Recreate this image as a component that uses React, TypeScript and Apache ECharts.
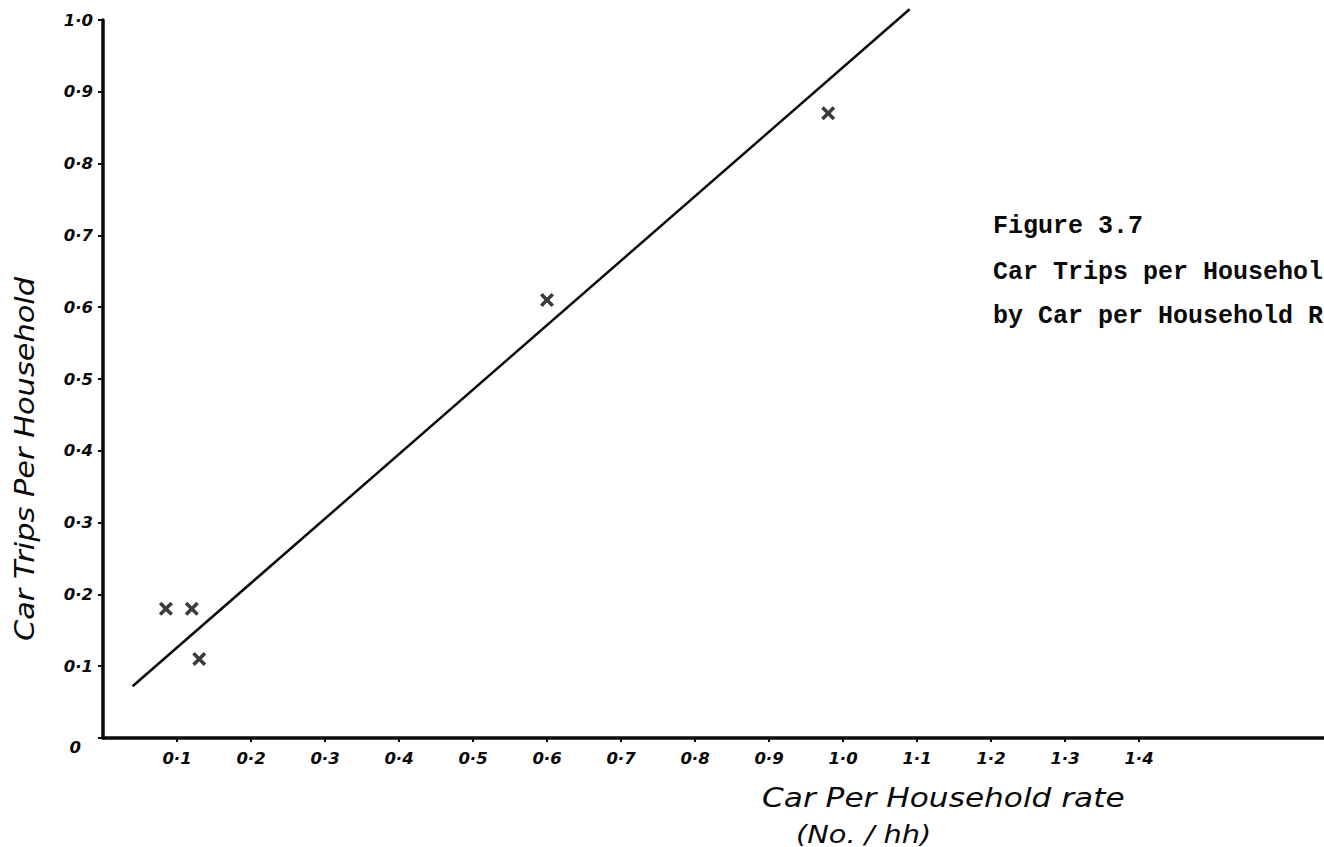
import React, { useEffect, useRef } from "react";
import * as echarts from "echarts";

// Car per household rate (x) and car trips per household (y)
const rateX = [0.085, 0.12, 0.13, 0.6, 0.98];
const tripsY = [0.18, 0.18, 0.11, 0.61, 0.87];
// hand-drawn fitted line end points
const fitX = [0.04, 1.09];
const fitY = [0.072, 1.015];
// tick values
const xTickValues = [0.1, 0.2, 0.3, 0.4, 0.5, 0.6, 0.7, 0.8, 0.9, 1.0, 1.1, 1.2, 1.3, 1.4];
const yTickValues = [0, 0.1, 0.2, 0.3, 0.4, 0.5, 0.6, 0.7, 0.8, 0.9, 1.0];
// caption as visible in the scan (cut at the page edge)
const captionLines = ["Figure 3.7", "Car Trips per Househol", "by Car per Household R"];
const yTitle = "Car Trips Per Household";
const xTitle = "Car Per Household rate";
const xUnit = "(No. / hh)";

const fmt = (v: number) => (Math.abs(v) < 1e-9 ? "0" : v.toFixed(1).replace(".", "·"));

const hand = '"DejaVu Sans", sans-serif';
const typewriter = '"Liberation Mono", monospace';
const ink = "#0a0a0a";
const cross = "path://M2.5,0 L7,4.5 L11.5,0 L14,2.5 L9.5,7 L14,11.5 L11.5,14 L7,9.5 L2.5,14 L0,11.5 L4.5,7 L0,2.5 Z";

export default function App() {
  const ref = useRef<HTMLDivElement>(null);
  useEffect(() => {
    document.body.style.margin = "0";
    if (!ref.current) return;
    const chart = echarts.init(ref.current, null, { renderer: "svg" });
    const scatter = rateX.map((x, i) => [x, tripsY[i]]);
    const fit = fitX.map((x, i) => [x, fitY[i]]);
    const labelStyle = {
      color: ink,
      fontFamily: hand,
      fontStyle: "italic",
      fontWeight: "bold",
      fontSize: 16.5,
    };
    chart.setOption({
      animation: false,
      backgroundColor: "#fff",
      grid: { left: 103, right: 0, top: 20, bottom: 109, containLabel: false },
      xAxis: {
        type: "value",
        min: 0,
        max: 1.65,
        interval: 0.1,
        splitLine: { show: false },
        axisLine: { lineStyle: { color: ink, width: 3.5 } },
        axisTick: { show: true, customValues: xTickValues, length: 4, lineStyle: { color: ink, width: 2 } },
        axisLabel: {
          customValues: xTickValues,
          formatter: (v: number) => fmt(v),
          margin: 12,
          ...labelStyle,
        },
      },
      yAxis: {
        type: "value",
        min: 0,
        max: 1.0,
        interval: 0.1,
        splitLine: { show: false },
        axisLine: { onZero: false, lineStyle: { color: ink, width: 3.5 } },
        axisTick: { show: true, length: 5, lineStyle: { color: ink, width: 2 } },
        axisLabel: {
          customValues: yTickValues,
          formatter: (v: number) => (Math.abs(v) < 1e-9 ? "{z|0}" : fmt(v)),
          margin: 10,
          ...labelStyle,
          rich: {
            z: { padding: [18, 12, 0, 0], ...labelStyle },
          },
        },
      },
      series: [
        {
          type: "line",
          data: fit,
          symbol: "none",
          clip: false,
          lineStyle: { color: ink, width: 2.5 },
          z: 2,
        },
        {
          type: "scatter",
          data: scatter,
          symbol: cross,
          symbolSize: 14,
          itemStyle: { color: ink },
          z: 3,
        },
      ],
      graphic: [
        {
          type: "text",
          x: 25,
          y: 459,
          rotation: Math.PI / 2,
          scaleX: 1.17,
          style: {
            text: yTitle,
            font: `italic 26px ${hand}`,
            fill: ink,
            align: "center",
            verticalAlign: "middle",
          },
        },
        {
          type: "text",
          x: 762,
          y: 798,
          scaleX: 1.2,
          style: { text: xTitle, font: `italic 26px ${hand}`, fill: ink, align: "left", verticalAlign: "middle" },
        },
        {
          type: "text",
          x: 796,
          y: 834,
          scaleX: 1.2,
          style: { text: xUnit, font: `italic 24px ${hand}`, fill: ink, align: "left", verticalAlign: "middle" },
        },
        ...captionLines.map((t, i) => ({
          type: "text",
          x: 993,
          y: [226, 272, 316][i],
          style: { text: t, font: `bold 25px ${typewriter}`, fill: ink, align: "left", verticalAlign: "middle" },
        })),
      ],
    });
    return () => chart.dispose();
  }, []);
  return <div ref={ref} style={{ width: 1324, height: 847 }} />;
}
